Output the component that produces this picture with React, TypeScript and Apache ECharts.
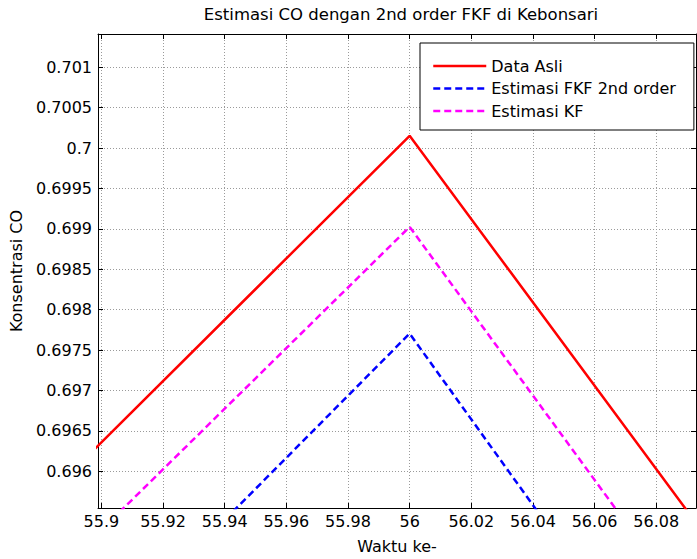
import React, { useEffect, useRef } from "react";
import * as echarts from "echarts";

const timeSteps = [55, 56, 57];
const dataAsli = [0.66221, 0.700152, 0.64861];
const estimasiFKF = [0.65928, 0.697705, 0.64464];
const estimasiKF = [0.66153, 0.699025, 0.64685];

const seriesNames = ["Data Asli", "Estimasi FKF 2nd order", "Estimasi KF"];
const titleText = "Estimasi CO dengan 2nd order FKF di Kebonsari";
const xName = "Waktu ke-";
const yName = "Konsentrasi CO";

const xMin = 55.8989;
const xMax = 56.0929;
const yMin = 0.695547;
const yMax = 0.701411;
const xStep = 0.02;
const yStep = 0.0005;

const FONT = "DejaVu Sans";

function isMultiple(v: number, step: number) {
  const r = v / step;
  return Math.abs(r - Math.round(r)) < 1e-6;
}

export default function App() {
  const ref = useRef<HTMLDivElement>(null);
  useEffect(() => {
    document.body.style.margin = "0";
    const chart = echarts.init(ref.current!, undefined, { renderer: "svg" });
    const pair = (arr: number[]) => timeSteps.map((t, i) => [t, arr[i]]);
    const tickCommon = { show: true, inside: true, length: 5, lineStyle: { color: "#000", width: 1 } };
    const splitCommon = { show: true, lineStyle: { color: "#9a9a9a", width: 1, type: [1, 2] as any } };
    const xBase = {
      type: "value" as const,
      min: xMin,
      max: xMax,
      minInterval: xStep,
      maxInterval: xStep,
      splitNumber: 10,
      axisLine: { show: true, onZero: false, lineStyle: { color: "#000", width: 1 } },
      axisTick: tickCommon,
    };
    const yBase = {
      type: "value" as const,
      min: yMin,
      max: yMax,
      minInterval: yStep,
      maxInterval: yStep,
      splitNumber: 12,
      axisLine: { show: true, onZero: false, lineStyle: { color: "#000", width: 1 } },
      axisTick: tickCommon,
    };
    chart.setOption({
      animation: false,
      backgroundColor: "#fff",
      textStyle: { fontFamily: FONT },
      graphic: [
        {
          type: "text",
          x: 401,
          y: 14,
          style: {
            text: titleText,
            fontFamily: FONT,
            fontSize: 16.5,
            fill: "#000",
            textAlign: "center",
            textVerticalAlign: "middle",
          },
        },
      ],
      grid: { left: 97, right: 1, top: 34, bottom: 50, containLabel: false },
      legend: {
        orient: "vertical",
        left: 420,
        top: 43,
        data: seriesNames,
        backgroundColor: "#fff",
        borderColor: "#000",
        borderWidth: 1,
        borderRadius: 0,
        padding: [15, 18, 11, 12],
        itemWidth: 53,
        itemHeight: 16,
        itemGap: 6.5,
        itemStyle: { opacity: 0 },
        lineStyle: { width: 2.5 },
        textStyle: { fontFamily: FONT, fontSize: 16, color: "#000", lineHeight: 16 },
      },
      xAxis: [
        {
          ...xBase,
          position: "bottom",
          name: xName,
          nameLocation: "middle",
          nameGap: 30,
          nameTextStyle: { fontFamily: FONT, fontSize: 16, color: "#000" },
          axisLabel: {
            show: true,
            margin: 5,
            fontFamily: FONT,
            fontSize: 16,
            color: "#000",
            showMinLabel: false,
            showMaxLabel: false,
            formatter: (v: number) => (isMultiple(v, xStep) ? String(parseFloat(v.toFixed(2))) : ""),
          },
          splitLine: splitCommon,
        },
        {
          ...xBase,
          position: "top",
          axisLabel: { show: false },
          splitLine: { show: false },
        },
      ],
      yAxis: [
        {
          ...yBase,
          position: "left",
          name: yName,
          nameLocation: "middle",
          nameGap: 74,
          nameTextStyle: { fontFamily: FONT, fontSize: 16, color: "#000" },
          axisLabel: {
            show: true,
            margin: 6,
            fontFamily: FONT,
            fontSize: 16,
            color: "#000",
            showMinLabel: false,
            showMaxLabel: false,
            formatter: (v: number) => (isMultiple(v, yStep) ? String(parseFloat(v.toFixed(4))) : ""),
          },
          splitLine: splitCommon,
        },
        {
          ...yBase,
          position: "right",
          axisLabel: { show: false },
          splitLine: { show: false },
        },
      ],
      series: [
        {
          name: seriesNames[0],
          type: "line",
          data: pair(dataAsli),
          symbol: "none",
          showSymbol: false,
          clip: true,
          lineStyle: { color: "#ff0000", width: 2.5, type: "solid" },
          itemStyle: { color: "#ff0000" },
          z: 3,
        },
        {
          name: seriesNames[1],
          type: "line",
          data: pair(estimasiFKF),
          symbol: "none",
          showSymbol: false,
          clip: true,
          lineStyle: { color: "#0000ff", width: 2.5, type: [7, 4] },
          itemStyle: { color: "#0000ff" },
          z: 3,
        },
        {
          name: seriesNames[2],
          type: "line",
          data: pair(estimasiKF),
          symbol: "none",
          showSymbol: false,
          clip: true,
          lineStyle: { color: "#ff00ff", width: 2.5, type: [7, 4] },
          itemStyle: { color: "#ff00ff" },
          z: 3,
        },
      ],
    });
    return () => chart.dispose();
  }, []);
  return <div ref={ref} style={{ width: 697, height: 559 }} />;
}
